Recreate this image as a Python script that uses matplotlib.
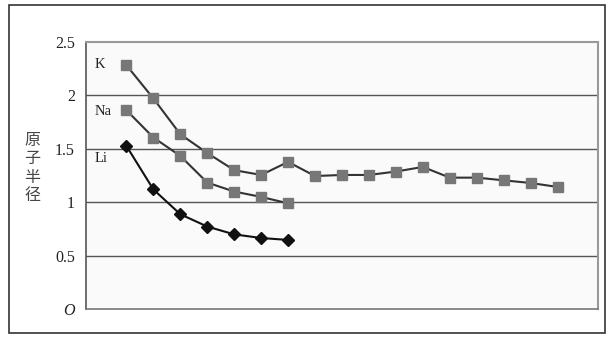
import matplotlib
matplotlib.use("Agg")
import matplotlib.pyplot as plt
from matplotlib.patches import Rectangle

# ---- data ----
k_values = [2.28, 1.97, 1.635, 1.46, 1.30, 1.255, 1.377, 1.245, 1.255, 1.255,
            1.287, 1.33, 1.23, 1.23, 1.205, 1.18, 1.143]
na_values = [1.86, 1.605, 1.433, 1.184, 1.10, 1.05, 0.99]
li_values = [1.526, 1.12, 0.888, 0.773, 0.70, 0.666, 0.648]
series_names = ["K", "Na", "Li"]
y_ticks = [0, 0.5, 1, 1.5, 2, 2.5]
y_ticklabels = ["O", "0.5", "1", "1.5", "2", "2.5"]
y_label = "原子半径"

serif = ["Liberation Serif", "DejaVu Serif"]
cjk = ["Noto Sans CJK SC", "DejaVu Sans"]

fig = plt.figure(figsize=(6.15, 3.42), dpi=100)
fig.patch.set_facecolor("white")

# outer frame
fig.patches.append(Rectangle((9 / 615, 1 - 333 / 342), 596 / 615, 328 / 342,
                             transform=fig.transFigure, fill=False,
                             edgecolor="#333333", linewidth=1.2, zorder=0))

ax = fig.add_axes([86 / 615, 1 - 309.3 / 342, 512 / 615, 267.6 / 342])
ax.set_facecolor("#fafafa")

xk = list(range(1, len(k_values) + 1))
xna = list(range(1, len(na_values) + 1))
xli = list(range(1, len(li_values) + 1))

ax.plot(xk, k_values, color="#333333", lw=1.5, marker="s", markersize=7.2,
        markerfacecolor="#777777", markeredgecolor="#777777", zorder=3)
ax.plot(xna, na_values, color="#333333", lw=1.5, marker="s", markersize=7.2,
        markerfacecolor="#777777", markeredgecolor="#777777", zorder=3)
ax.plot(xli, li_values, color="#111111", lw=1.5, marker="D", markersize=6,
        markerfacecolor="#111111", markeredgecolor="#111111", zorder=3)

ax.set_xlim(-0.5, len(k_values) + 1.5)
ax.set_ylim(0, 2.5)
ax.set_yticks(y_ticks)
ax.set_yticklabels(y_ticklabels, family=serif, fontsize=11.5, color="#222222")
ax.get_yticklabels()[0].set_fontstyle("italic")
ax.tick_params(axis="y", length=0, pad=8)
ax.set_xticks([])

for y in [0.5, 1, 1.5, 2]:
    ax.axhline(y, color="#555555", lw=1.0, zorder=1)

ax.spines["left"].set_color("#555555")
ax.spines["left"].set_linewidth(1.2)
ax.spines["bottom"].set_color("#777777")
ax.spines["bottom"].set_linewidth(1.2)
ax.spines["top"].set_color("#999999")
ax.spines["top"].set_linewidth(1.5)
ax.spines["right"].set_color("#999999")
ax.spines["right"].set_linewidth(1.5)

# series labels
label_y = [2.29, 1.85, 1.41]
for name, yv in zip(series_names, label_y):
    ax.text(-0.17, yv, name, family=serif, fontsize=10.5, color="#222222",
            ha="left", va="center")

# vertical Chinese y label
fig.text(32 / 615, 1 - 168 / 342, "\n".join(y_label), family=cjk,
         fontsize=11.5, color="#444444", ha="center", va="center",
         linespacing=1.08)

fig.savefig("out.png", dpi=100)
